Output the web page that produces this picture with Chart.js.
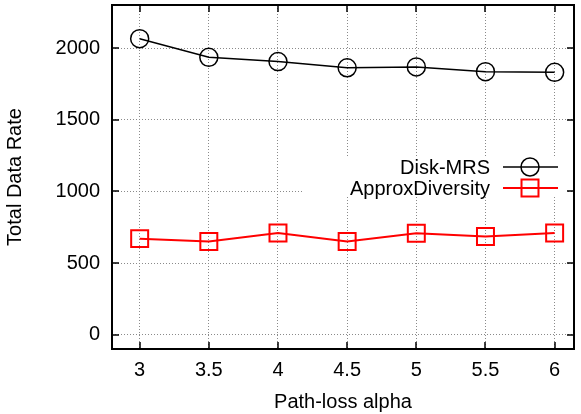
<!DOCTYPE html>
<html>
<head>
  <meta charset="UTF-8">
  <title>Total Data Rate vs Path-loss alpha</title>
  <script src="https://cdn.jsdelivr.net/npm/chart.js"></script>
  <style>
    html, body { margin: 0; padding: 0; background: #fff; }
    #wrap { width: 581px; height: 414px; }
  </style>
</head>
<body>
  <div id="wrap"><canvas id="rateChart"></canvas></div>

  <script>
    // data
    const alphas = [3, 3.5, 4, 4.5, 5, 5.5, 6];
    const diskMrs = [2065, 1935, 1905, 1862, 1868, 1835, 1830];
    const approxDiversity = [670, 650, 710, 650, 708, 685, 710];
    const xTicks = [3, 3.5, 4, 4.5, 5, 5.5, 6];
    const yTicks = [0, 500, 1000, 1500, 2000];

    const FONT = { family: '"Liberation Sans", Arial, sans-serif', size: 20 };

    // gnuplot-ish frame, inward ticks and opaque key
    const gnuplotLook = {
      id: 'gnuplotLook',
      beforeDatasetsDraw(chart) {
        const ctx = chart.ctx;
        ctx.save();
        ctx.fillStyle = '#fff';
        ctx.fillRect(303, 157, 264, 40);
        ctx.restore();
      },
      afterDatasetsDraw(chart) {
        const ctx = chart.ctx;
        const a = chart.chartArea;
        const xs = chart.scales.x, ys = chart.scales.y;
        ctx.save();
        // ticks
        ctx.strokeStyle = '#000';
        ctx.lineWidth = 1.5;
        ctx.beginPath();
        xTicks.forEach(v => {
          const px = Math.round(xs.getPixelForValue(v));
          ctx.moveTo(px, a.bottom); ctx.lineTo(px, a.bottom - 7);
          ctx.moveTo(px, a.top); ctx.lineTo(px, a.top + 7);
        });
        yTicks.forEach(v => {
          const py = Math.round(ys.getPixelForValue(v));
          ctx.moveTo(a.left, py); ctx.lineTo(a.left + 7, py);
          ctx.moveTo(a.right, py); ctx.lineTo(a.right - 7, py);
        });
        ctx.stroke();
        // frame
        ctx.lineWidth = 2;
        ctx.strokeRect(a.left, a.top, a.right - a.left, a.bottom - a.top);

        // key
        ctx.font = FONT.size + 'px ' + FONT.family;
        ctx.textAlign = 'right';
        ctx.textBaseline = 'middle';
        const rows = [167, 188];
        chart.data.datasets.forEach((ds, i) => {
          const y = rows[i];
          ctx.fillStyle = '#000';
          ctx.fillText(ds.label, 490, y + 1);
          ctx.strokeStyle = ds.borderColor;
          ctx.lineWidth = ds.borderWidth;
          ctx.beginPath();
          ctx.moveTo(503, y); ctx.lineTo(558, y);
          ctx.stroke();
          ctx.lineWidth = ds.pointBorderWidth;
          ctx.beginPath();
          if (ds.pointStyle === 'rect') {
            const s = Math.SQRT1_2 * ds.pointRadius;
            ctx.rect(530 - s, y - s, 2 * s, 2 * s);
          } else {
            ctx.arc(530, y, ds.pointRadius, 0, Math.PI * 2);
          }
          ctx.stroke();
        });
        ctx.restore();
      }
    };

    const gridStyle = {
      color: '#8a8a8a',
      lineWidth: 1,
      drawTicks: false
    };
    const borderStyle = { display: false, dash: [1, 2] };

    new Chart(document.getElementById('rateChart'), {
      type: 'line',
      data: {
        datasets: [
          {
            label: 'Disk-MRS',
            data: alphas.map((x, i) => ({ x: x, y: diskMrs[i] })),
            borderColor: '#000',
            borderWidth: 1.5,
            pointStyle: 'circle',
            pointRadius: 9,
            pointBorderWidth: 1.5,
            pointBorderColor: '#000',
            pointBackgroundColor: 'rgba(0,0,0,0)',
            fill: false,
            tension: 0
          },
          {
            label: 'ApproxDiversity',
            data: alphas.map((x, i) => ({ x: x, y: approxDiversity[i] })),
            borderColor: '#ff0000',
            borderWidth: 2,
            pointStyle: 'rect',
            pointRadius: 12,
            pointBorderWidth: 2,
            pointBorderColor: '#ff0000',
            pointBackgroundColor: 'rgba(0,0,0,0)',
            fill: false,
            tension: 0
          }
        ]
      },
      options: {
        responsive: true,
        maintainAspectRatio: false,
        animation: false,
        layout: { autoPadding: false, padding: { top: 5, right: 7, left: 0, bottom: 0 } },
        plugins: {
          legend: { display: false },
          tooltip: { enabled: false }
        },
        scales: {
          x: {
            type: 'linear',
            min: 2.8,
            max: 6.14,
            afterBuildTicks: s => { s.ticks = xTicks.map(v => ({ value: v })); },
            afterFit: s => { s.height = 65; s.paddingLeft = 0; s.paddingRight = 0; },
            grid: gridStyle,
            border: borderStyle,
            ticks: {
              color: '#000',
              font: FONT,
              padding: 9,
              maxRotation: 0,
              callback: v => String(v)
            },
            title: {
              display: true,
              text: 'Path-loss alpha',
              color: '#000',
              font: FONT,
              padding: { top: 6, bottom: 0 }
            }
          },
          y: {
            min: -100,
            max: 2300,
            afterBuildTicks: s => { s.ticks = yTicks.map(v => ({ value: v })); },
            afterFit: s => { s.width = 112; s.paddingTop = 0; s.paddingBottom = 0; },
            grid: gridStyle,
            border: borderStyle,
            ticks: {
              color: '#000',
              font: FONT,
              padding: 12,
              callback: v => String(v)
            },
            title: {
              display: true,
              text: 'Total Data Rate',
              color: '#000',
              font: FONT,
              padding: { top: 3, bottom: 0 }
            }
          }
        }
      },
      plugins: [gnuplotLook]
    });
  </script>
</body>
</html>
